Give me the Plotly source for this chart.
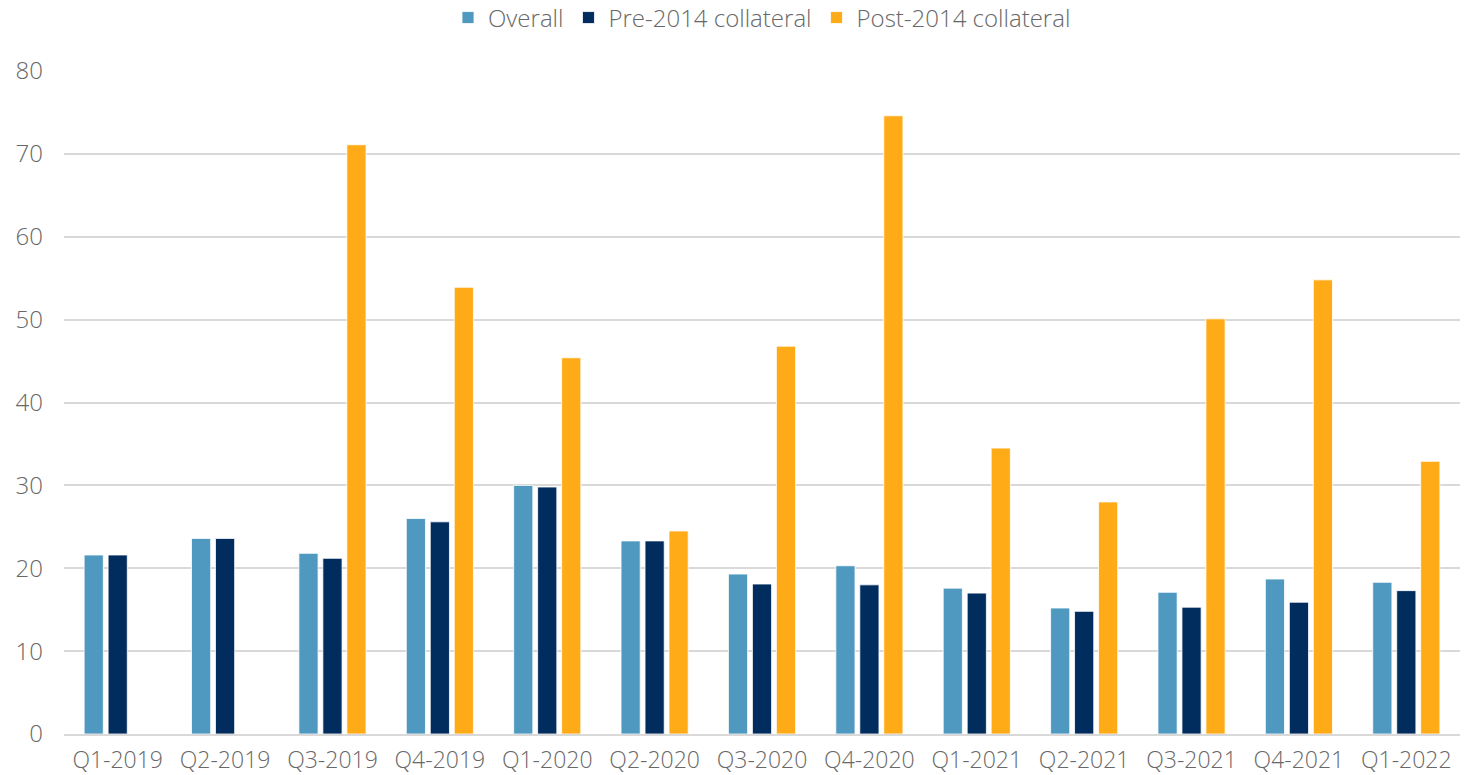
import plotly.graph_objects as go

quarters = ["Q1-2019", "Q2-2019", "Q3-2019", "Q4-2019", "Q1-2020", "Q2-2020", "Q3-2020",
            "Q4-2020", "Q1-2021", "Q2-2021", "Q3-2021", "Q4-2021", "Q1-2022"]
overall = [21.6, 23.6, 21.8, 26.0, 30.0, 23.3, 19.3, 20.3, 17.6, 15.2, 17.1, 18.7, 18.3]
pre_2014 = [21.6, 23.6, 21.2, 25.6, 29.8, 23.3, 18.1, 18.0, 17.0, 14.8, 15.3, 15.9, 17.3]
post_2014 = [None, None, 71.1, 53.9, 45.4, 24.5, 46.8, 74.6, 34.5, 28.0, 50.1, 54.8, 32.9]

series = [
    ("Overall", overall, "#4F99C1"),
    ("Pre-2014 collateral", pre_2014, "#002C5E"),
    ("Post-2014 collateral", post_2014, "#FFAB18"),
]

fig = go.Figure()
for name, vals, color in series:
    fig.add_trace(go.Bar(
        x=quarters, y=vals, name=name,
        marker=dict(color=color, line=dict(color="white", width=0.8)),
    ))

font_family = "Open Sans, Arial, sans-serif"
text_font = dict(family=font_family, size=24, color="#686868", weight=300)
xtick_font = dict(family=font_family, size=23, color="#686868", weight=300)
fig.update_layout(
    width=1473, height=775,
    barmode="group", bargap=0.33, bargroupgap=0.2,
    plot_bgcolor="white", paper_bgcolor="white",
    margin=dict(l=64, r=13, t=71, b=41, autoexpand=False),
    font=text_font,
    legend=dict(
        orientation="h", x=0.5, xanchor="center",
        yref="paper", y=1.08, yanchor="middle",
        font=text_font,
        itemwidth=30, traceorder="normal",
    ),
    xaxis=dict(
        showgrid=False, showline=True, linecolor="#D9D9D9", linewidth=2,
        ticks="", tickfont=xtick_font, ticklabelstandoff=4, automargin=False,
    ),
    yaxis=dict(
        range=[0, 80], dtick=10, showgrid=True, gridcolor="#D9D9D9", gridwidth=1.5,
        zeroline=False, showline=False, ticks="", automargin=False,
        tickfont=text_font, ticklabelstandoff=20,
    ),
)

fig.write_html("out.html")
